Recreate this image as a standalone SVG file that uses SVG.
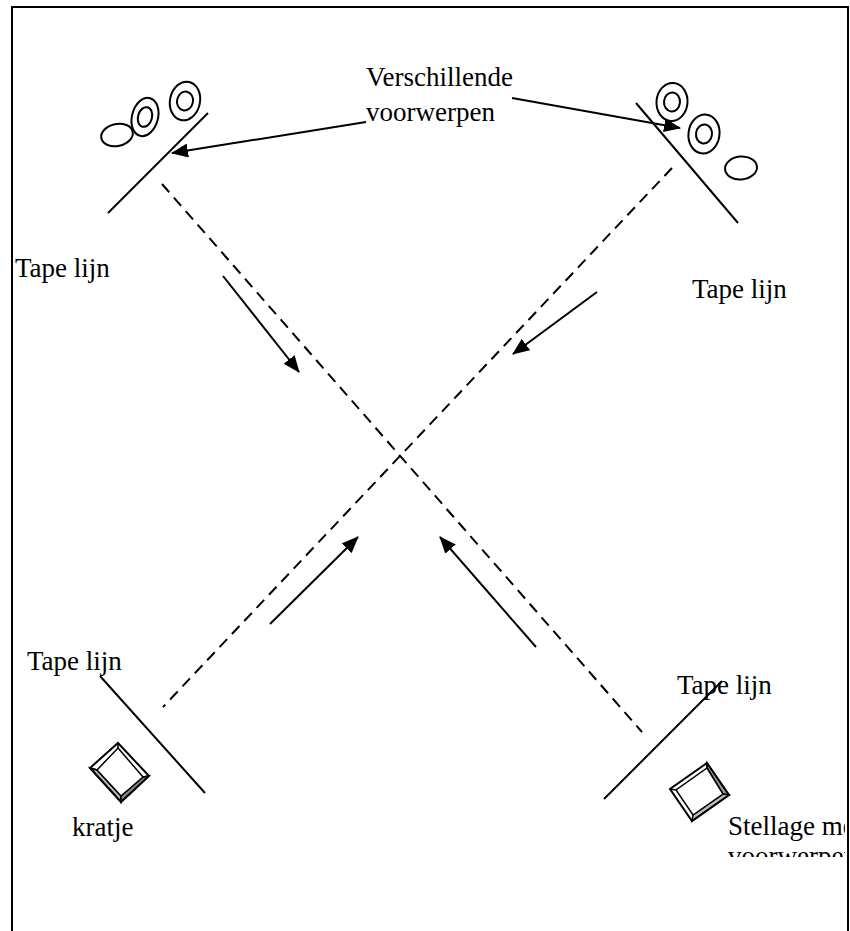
<svg xmlns="http://www.w3.org/2000/svg" width="850" height="931" viewBox="0 0 850 931">
<style>
.t{font-family:"Liberation Serif","Times New Roman",serif;font-size:27px;fill:#000}
.ln{stroke:#000;stroke-width:2;fill:none}
.ds{stroke:#000;stroke-width:2;fill:none;stroke-dasharray:11 7}
.el{stroke:#000;stroke-width:2;fill:#fff}
.ar{stroke:#000;stroke-width:2;fill:none;marker-end:url(#ah)}
</style>
<defs>
<marker id="ah" markerUnits="userSpaceOnUse" markerWidth="18" markerHeight="14" refX="16" refY="7" orient="auto">
<path d="M0,0 L17,7 L0,14 z" fill="#000"/>
</marker>
<clipPath id="clipS"><rect x="700" y="800" width="145" height="57"/></clipPath>
</defs>
<rect id="frame" x="12" y="7" width="836" height="940" fill="#fff" stroke="#000" stroke-width="2"/>

<g id="connectors">
<line class="ds" x1="162" y1="184" x2="642" y2="732"/>
<line class="ds" x1="672" y1="168" x2="163" y2="707"/>
<line class="ar" x1="223" y1="276" x2="299" y2="372"/>
<line class="ar" x1="597" y1="292" x2="513" y2="354"/>
<line class="ar" x1="270" y1="624" x2="358" y2="537"/>
<line class="ar" x1="536" y1="647" x2="440" y2="537"/>
<polyline class="ar" points="366,122 172,153"/>
<polyline class="ar" points="512,98 680,128"/>
</g>

<g id="objects-top-left">
<line class="ln" x1="108" y1="213" x2="208" y2="113"/>
<ellipse class="el" cx="117" cy="135" rx="16" ry="11" transform="rotate(-12 117 135)"/>
<ellipse class="el" cx="145" cy="117" rx="13" ry="19.5" transform="rotate(15 145 117)"/>
<ellipse class="el" cx="145" cy="117" rx="7" ry="10" transform="rotate(15 145 117)"/>
<ellipse class="el" cx="185" cy="101" rx="15" ry="19.5" transform="rotate(12 185 101)"/>
<ellipse class="el" cx="185" cy="101" rx="8" ry="9.5" transform="rotate(12 185 101)"/>
</g>

<g id="objects-top-right">
<line class="ln" x1="636" y1="103" x2="738" y2="223"/>
<ellipse class="el" cx="672" cy="102" rx="15.5" ry="19" transform="rotate(5 672 102)"/>
<ellipse class="el" cx="672" cy="102" rx="8" ry="9.5" transform="rotate(5 672 102)"/>
<ellipse class="el" cx="704" cy="134" rx="15.5" ry="19.5" transform="rotate(8 704 134)"/>
<ellipse class="el" cx="704" cy="134" rx="8" ry="9.5" transform="rotate(8 704 134)"/>
<ellipse class="el" cx="741" cy="168" rx="16" ry="11.5" transform="rotate(-5 741 168)"/>
</g>

<g id="label-verschillende">
<text class="t" x="366" y="86">Verschillende</text>
<text class="t" x="366" y="121">voorwerpen</text>
</g>

<g id="tape-top-left"><text class="t" x="15" y="277">Tape lijn</text></g>
<g id="tape-top-right"><text class="t" x="692" y="298">Tape lijn</text></g>
<g id="tape-bottom-left">
<text class="t" x="27" y="670">Tape lijn</text>
<line class="ln" x1="100" y1="676" x2="205" y2="793"/>
</g>
<g id="tape-bottom-right">
<text class="t" x="677" y="694">Tape lijn</text>
<line class="ln" x1="722" y1="681" x2="604" y2="799"/>
</g>

<g id="kratje">
<polygon points="97,770 121,796 121,802 90,768" fill="#bbb" stroke="#000" stroke-width="1.5"/>
<polygon points="121,796 143,777 149,776 121,802" fill="#888" stroke="#000" stroke-width="1.5"/>
<polygon points="118,743 149,776 121,802 90,768" fill="none" stroke="#000" stroke-width="2"/>
<polygon points="118,748 143,777 121,796 97,770" fill="#fff" stroke="#000" stroke-width="1.5"/>
<line x1="118" y1="743" x2="118" y2="748" stroke="#000" stroke-width="1.5"/>
<line x1="149" y1="776" x2="143" y2="777" stroke="#000" stroke-width="1.5"/>
<line x1="90" y1="768" x2="97" y2="770" stroke="#000" stroke-width="1.5"/>
<text class="t" x="72" y="836">kratje</text>
</g>

<g id="stellage">
<polygon points="707,763 729,795 723,794 707,768" fill="#999" stroke="#000" stroke-width="1.5"/>
<polygon points="729,795 692,821 693,815 723,794" fill="#bbb" stroke="#000" stroke-width="1.5"/>
<polygon points="707,763 729,795 692,821 670,789" fill="none" stroke="#000" stroke-width="2"/>
<polygon points="707,768 723,794 693,815 676,790" fill="#fff" stroke="#000" stroke-width="1.5"/>
<line x1="707" y1="763" x2="707" y2="768" stroke="#000" stroke-width="1.5"/>
<line x1="670" y1="789" x2="676" y2="790" stroke="#000" stroke-width="1.5"/>
<g clip-path="url(#clipS)">
<text class="t" x="728" y="835">Stellage met</text>
<text class="t" x="728" y="865">voorwerpen</text>
</g>
</g>
</svg>
